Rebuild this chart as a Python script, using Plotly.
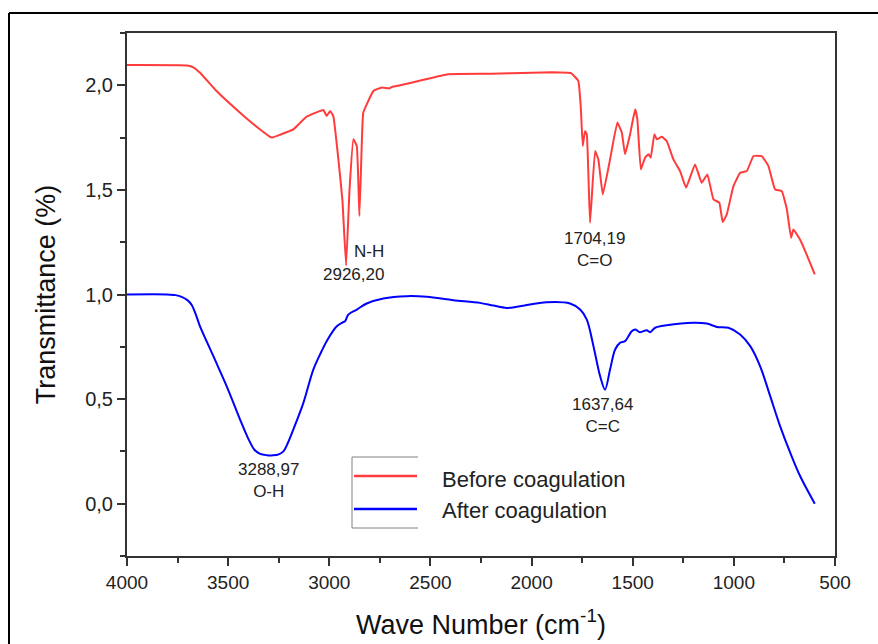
import plotly.graph_objects as go

# ---------------- data ----------------
before_wn = [4000, 3703, 3670, 3639, 3560, 3441, 3350, 3285, 3240, 3178, 3112, 3029, 3013, 2996, 2980, 2955,
             2935, 2917, 2900, 2881, 2864, 2851, 2840, 2832, 2782, 2740, 2705, 2690,
             2650, 2540, 2413, 2200, 2000, 1900, 1805, 1769, 1757, 1747, 1736, 1727,
             1711, 1686, 1670, 1648, 1612, 1576, 1554, 1538, 1513, 1488, 1477, 1460,
             1439, 1422, 1411, 1393, 1381, 1356, 1332, 1299, 1266, 1236, 1192, 1159,
             1131, 1101, 1072, 1055, 1035, 1002, 969, 936, 903, 862, 829, 796, 763,
             738, 717, 706, 673, 640, 600]
before_t = [2.097, 2.095, 2.085, 2.060, 1.975, 1.869, 1.795, 1.750, 1.765, 1.789, 1.850, 1.882, 1.853, 1.877, 1.853, 1.646,
            1.450, 1.139, 1.500, 1.742, 1.710, 1.375, 1.700, 1.869, 1.973, 1.990, 1.985, 1.992,
            2.000, 2.025, 2.053, 2.055, 2.060, 2.062, 2.058, 2.021, 1.901, 1.710, 1.781, 1.766,
            1.343, 1.686, 1.646, 1.478, 1.646, 1.822, 1.774, 1.670, 1.766, 1.885, 1.837, 1.598,
            1.654, 1.670, 1.654, 1.766, 1.742, 1.754, 1.734, 1.646, 1.590, 1.511, 1.622, 1.534,
            1.574, 1.455, 1.439, 1.346, 1.383, 1.518, 1.582, 1.590, 1.662, 1.662, 1.614, 1.502, 1.494,
            1.407, 1.271, 1.311, 1.263, 1.191, 1.096]

after_wn = [4000, 3802, 3760, 3730, 3700, 3680, 3660, 3639, 3573, 3507, 3441, 3400, 3370, 3342, 3310, 3277,
            3250, 3227, 3205, 3178, 3128, 3079, 3040, 3013, 2963, 2935, 2922, 2906, 2864, 2815, 2733, 2617, 2518,
            2386, 2255, 2189, 2123, 2057, 1925, 1810, 1760, 1727, 1694, 1661, 1637,
            1612, 1587, 1563, 1538, 1505, 1488, 1464, 1431, 1414, 1389, 1332, 1200,
            1134, 1084, 1027, 969, 919, 870, 820, 771, 721, 672, 600]
after_t = [1.000, 1.000, 0.997, 0.989, 0.972, 0.950, 0.905, 0.848, 0.705, 0.561, 0.402, 0.310, 0.258, 0.238, 0.232, 0.231,
           0.236, 0.250, 0.290, 0.354, 0.482, 0.641, 0.725, 0.777, 0.848, 0.866, 0.872, 0.904, 0.928, 0.957, 0.981, 0.992, 0.989,
           0.973, 0.960, 0.947, 0.936, 0.944, 0.963, 0.957, 0.928, 0.880, 0.753, 0.609, 0.545,
           0.641, 0.737, 0.769, 0.777, 0.824, 0.833, 0.820, 0.829, 0.820, 0.841, 0.853, 0.865,
           0.861, 0.845, 0.841, 0.809, 0.753, 0.657, 0.513, 0.370, 0.243, 0.131, 0.000]

series_names = ["Before coagulation", "After coagulation"]
series_colors = ["#ff3b3b", "#0000ff"]
series_smoothing = [0.3, 0.9]

y_tickvals = [0.0, 0.5, 1.0, 1.5, 2.0]
y_ticktext = ["0,0", "0,5", "1,0", "1,5", "2,0"]

peak_labels = ["N-H", "2926,20", "1704,19<br>C=O", "3288,97<br>O-H", "1637,64<br>C=C"]
peak_x = [2802, 2878, 1690, 3302, 1648]
peak_y = [1.207, 1.096, 1.215, 0.112, 0.421]

# ---------------- figure ----------------
W, H = 878, 644
L, R, T, B = 127, 43, 33, 88
PW, PH = W - L - R, H - T - B


def px(x):
    return (x - L) / PW


def py(y):
    return (H - B - y) / PH


FONT = "Liberation Sans, Arial, sans-serif"
fig = go.Figure()
for wn, tv, name, col, sm in zip([before_wn, after_wn], [before_t, after_t], series_names, series_colors,
                                 series_smoothing):
    fig.add_trace(go.Scatter(x=wn, y=tv, mode="lines", name=name,
                             line=dict(color=col, width=2, shape="spline", smoothing=sm),
                             showlegend=False))

for txt, xv, yv in zip(peak_labels, peak_x, peak_y):
    fig.add_annotation(x=xv, y=yv, text=txt, showarrow=False,
                       font=dict(family=FONT, size=17, color="#222"))

# manual legend (partial box as in reference)
shapes = []
grey = dict(color="#808080", width=1)
shapes.append(dict(type="line", xref="paper", yref="paper", x0=px(352), x1=px(418), y0=py(457), y1=py(457), line=grey))
shapes.append(dict(type="line", xref="paper", yref="paper", x0=px(352), x1=px(418), y0=py(528), y1=py(528), line=grey))
shapes.append(dict(type="line", xref="paper", yref="paper", x0=px(352), x1=px(352), y0=py(457), y1=py(528), line=grey))
for ypix, col in zip([476, 509], series_colors):
    shapes.append(dict(type="line", xref="paper", yref="paper", x0=px(354), x1=px(417), y0=py(ypix), y1=py(ypix),
                       line=dict(color=col, width=2.5)))
for ypix, name in zip([479, 510], series_names):
    fig.add_annotation(xref="paper", yref="paper", x=px(440), y=py(ypix), text=name, showarrow=False,
                       xanchor="left", yanchor="middle", font=dict(family=FONT, size=22, color="#222"))

# outer frame (top and left edges visible)
frame = dict(color="black", width=2)
shapes.append(dict(type="line", xref="paper", yref="paper", x0=px(9), x1=px(880), y0=py(13), y1=py(13), line=frame))
shapes.append(dict(type="line", xref="paper", yref="paper", x0=px(9), x1=px(9), y0=py(13), y1=py(646), line=frame))

axis_line = "#333"
fig.update_layout(
    width=W, height=H, margin=dict(l=L, r=R, t=T, b=B),
    paper_bgcolor="white", plot_bgcolor="white",
    font=dict(family=FONT, color="#222"),
    shapes=shapes,
    xaxis=dict(range=[4000, 500], dtick=500, tick0=500, ticks="outside", ticklen=8, tickwidth=1.5,
               tickcolor=axis_line, showline=True, linecolor=axis_line, linewidth=2, mirror=True,
               showgrid=False, zeroline=False, tickfont=dict(size=19, color="#222"), automargin=False,
               minor=dict(ticks="outside", ticklen=5, dtick=250, tickcolor=axis_line, tickwidth=1.5),
               title=dict(text="Wave Number (cm<sup>-1</sup>)", font=dict(size=27, color="#111"), standoff=23)),
    yaxis=dict(range=[-0.25, 2.25], tickvals=y_tickvals, ticktext=y_ticktext, ticks="outside", ticklen=8,
               tickwidth=1.5, tickcolor=axis_line, showline=True, linecolor=axis_line, linewidth=2, mirror=True,
               showgrid=False, zeroline=False, tickfont=dict(size=20, color="#222"), automargin=False,
               minor=dict(ticks="outside", ticklen=5, tickvals=[-0.25, 0.25, 0.75, 1.25, 1.75, 2.25],
                          tickcolor=axis_line, tickwidth=1.5),
               title=dict(text="Transmittance (%)", font=dict(size=27, color="#111"), standoff=22)),
)

fig.write_html("out.html")
